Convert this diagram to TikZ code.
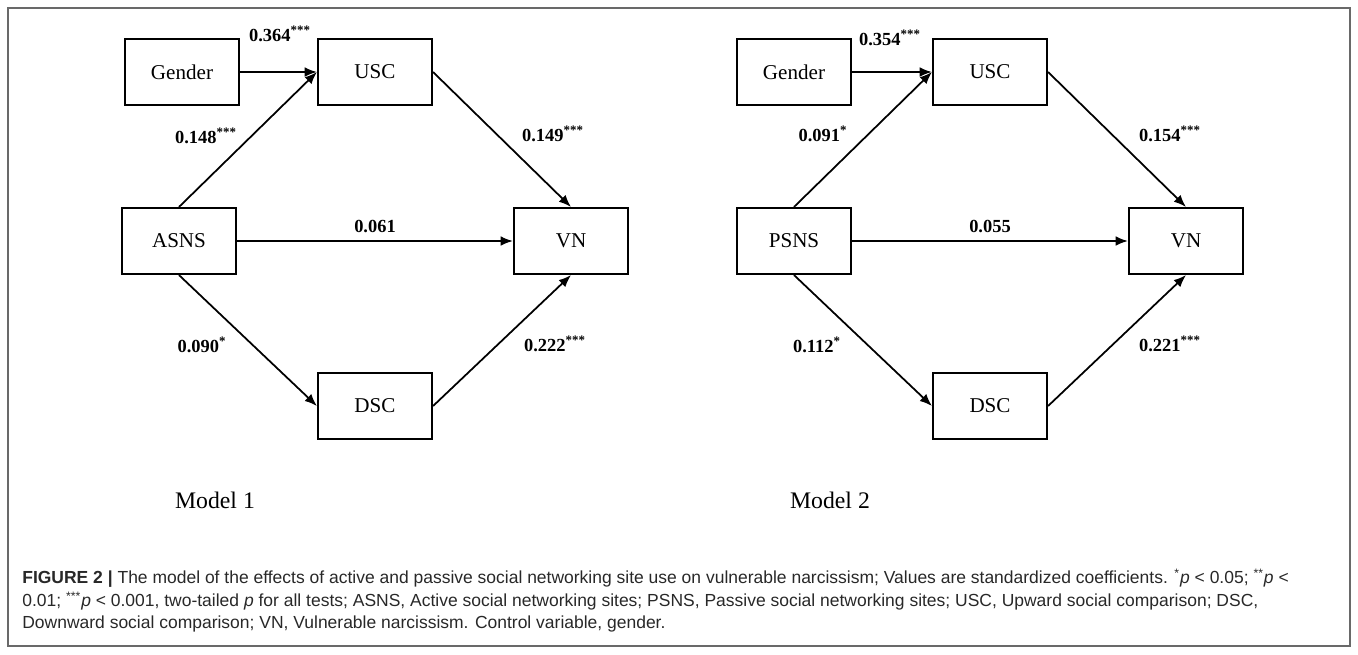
\documentclass[tikz,border=0pt]{standalone}
\usepackage{fontspec}
\setmainfont{Liberation Serif}
\newfontfamily\capfont{Liberation Sans}
\usepackage{xcolor}
\usetikzlibrary{positioning,arrows.meta}
\definecolor{framegray}{RGB}{105,105,105}
\definecolor{captext}{RGB}{40,40,40}

\begin{document}
\begin{tikzpicture}[x=0.02cm,y=-0.02cm,
    var/.style={draw,line width=1.2pt,minimum width=2.28cm,minimum height=1.32cm,inner sep=0pt,font=\fontsize{12}{14}\selectfont},
    effect/.style={line width=1pt,-{Latex[length=7pt,width=5.5pt]}},
    coef/.style={inner sep=0pt,font=\fontsize{10.5}{12}\selectfont\bfseries},
    model/.style={font=\fontsize{13.5}{16}\selectfont},
    capline/.style={anchor=west,inner sep=0pt,text=captext,font=\capfont\fontsize{9.95}{12}\selectfont}]
    \useasboundingbox (0,0) rectangle (1358,654);
    % Frame
    \draw[framegray,line width=0.8pt] (8,8) rectangle (1350,646);

    % Model 1
    \node[var] (gen1) at (182,72) {Gender};
    \node[var] (usc1) at (375,72) {USC};
    \node[var] (asns) at (179,241) {ASNS};
    \node[var] (vn1) at (571,241) {VN};
    \node[var] (dsc1) at (375,406) {DSC};
    \draw[effect] (gen1.east) -- (usc1.west);
    \draw[effect] (asns.north) -- (usc1.west);
    \draw[effect] (usc1.east) -- (vn1.north);
    \draw[effect] (asns.east) -- (vn1.west);
    \draw[effect] (asns.south) -- (dsc1.west);
    \draw[effect] (dsc1.east) -- (vn1.south);
    \node[coef] (c11) at (280,34) {0.364\textsuperscript{***}};
    \node[coef] (c12) at (206,136) {0.148\textsuperscript{***}};
    \node[coef] (c13) at (553,134) {0.149\textsuperscript{***}};
    \node[coef] (c14) at (375,226) {0.061};
    \node[coef] (c15) at (202,345) {0.090\textsuperscript{*}};
    \node[coef] (c16) at (555,344) {0.222\textsuperscript{***}};
    \node[model] (m1) at (215,500) {Model 1};

    % Model 2
    \node[var] (gen2) at (794,72) {Gender};
    \node[var] (usc2) at (990,72) {USC};
    \node[var] (psns) at (794,241) {PSNS};
    \node[var] (vn2) at (1186,241) {VN};
    \node[var] (dsc2) at (990,406) {DSC};
    \draw[effect] (gen2.east) -- (usc2.west);
    \draw[effect] (psns.north) -- (usc2.west);
    \draw[effect] (usc2.east) -- (vn2.north);
    \draw[effect] (psns.east) -- (vn2.west);
    \draw[effect] (psns.south) -- (dsc2.west);
    \draw[effect] (dsc2.east) -- (vn2.south);
    \node[coef] (c21) at (890,38) {0.354\textsuperscript{***}};
    \node[coef] (c22) at (823,134) {0.091\textsuperscript{*}};
    \node[coef] (c23) at (1170,134) {0.154\textsuperscript{***}};
    \node[coef] (c24) at (990,226) {0.055};
    \node[coef] (c25) at (817,345) {0.112\textsuperscript{*}};
    \node[coef] (c26) at (1170,344) {0.221\textsuperscript{***}};
    \node[model] (m2) at (830,500) {Model 2};

    % Caption
    \node[capline] (cap1) at (22,578) {\textbf{FIGURE 2 |} The model of the effects of active and passive social networking site use on vulnerable narcissism; Values are standardized coefficients. \textsuperscript{*}\textit{p} < 0.05; \textsuperscript{**}\textit{p} <};
    \node[capline] (cap2) at (22,601) {0.01; \textsuperscript{***}\textit{p} < 0.001, two-tailed \textit{p} for all tests; ASNS, Active social networking sites; PSNS, Passive social networking sites; USC, Upward social comparison; DSC,};
    \node[capline] (cap3) at (22,624) {Downward social comparison; VN, Vulnerable narcissism. Control variable, gender.};
\end{tikzpicture}
\end{document}
